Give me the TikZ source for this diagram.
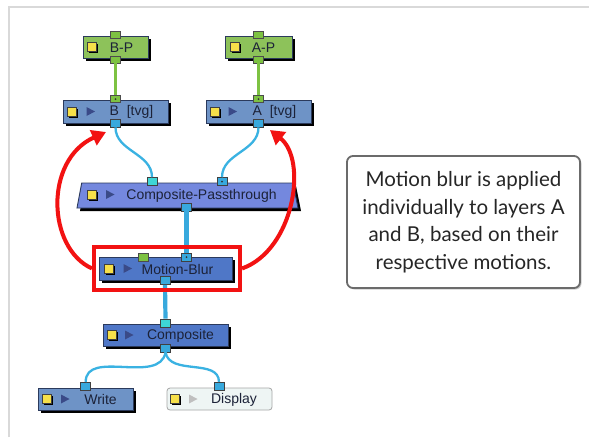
\documentclass[tikz,border=0pt]{standalone}
\usepackage{fontspec}
\setmainfont{Liberation Sans}
\newfontfamily\notefont{Lato}
\usetikzlibrary{shapes.geometric,shadows,arrows.meta}
\definecolor{gfill}{HTML}{8DC25A}
\definecolor{gport}{HTML}{7DC242}
\definecolor{bfill}{HTML}{6E93C6}
\definecolor{cpfill}{HTML}{7488DE}
\definecolor{mbfill}{HTML}{4F77C7}
\definecolor{bport}{HTML}{38A9DD}
\definecolor{cport}{HTML}{3ED6D6}
\definecolor{wire}{HTML}{3AB2E2}
\definecolor{nodeline}{HTML}{2B3A5C}
\definecolor{ysqc}{HTML}{F6E04A}
\definecolor{playc}{HTML}{3A4A88}
\definecolor{dispfill}{HTML}{EEF5F4}
\definecolor{redc}{HTML}{F21212}
\definecolor{framec}{HTML}{D9D9D9}
\definecolor{txtc}{HTML}{1C2238}
\newcommand\playic[3]{\fill[#3] (#1-4,#2-4.5) -- (#1+4.5,#2) -- (#1-4,#2+4.5) -- cycle;}
\tikzset{
  box/.style={draw=nodeline, line width=0.9pt, inner sep=0pt,
    drop shadow={shadow xshift=3pt, shadow yshift=-3pt, fill=black, opacity=1}},
  ysq/.style={draw=black!75, fill=ysqc, minimum size=9pt, inner sep=0pt, line width=0.6pt,
    drop shadow={shadow xshift=1.6pt, shadow yshift=-1.6pt, fill=black, opacity=1}},
  lbl/.style={inner sep=0pt, text=txtc, font=\fontsize{14}{16}\selectfont},
  gp/.style={draw=black!70, fill=gport, line width=0.6pt, minimum width=10pt, minimum height=7pt, inner sep=0pt},
  bp/.style={draw=black!75, fill=bport, line width=0.6pt, minimum width=10pt, minimum height=8pt, inner sep=0pt},
  cp/.style={bp, fill=cport},
  dotted port/.style={path picture={\fill[black!80] (path picture bounding box.center) circle (1pt);}},
  gwire/.style={draw=gport, line width=2.4pt},
  bwire/.style={draw=wire, line width=2.3pt},
  thickwire/.style={draw=bport, line width=4.2pt},
  redarrow/.style={draw=redc, line width=4pt, -{Triangle[length=14pt,width=16pt]}},
}
\begin{document}
\begin{tikzpicture}[x=1pt,y=-1pt]
\useasboundingbox (0,0) rectangle (589,437);
\fill[white] (0,0) rectangle (589,437);
\draw[framec, line width=2pt] (8.5,437) -- (8.5,6.5) -- (589,6.5);

% B-P and A-P
\node[box, fill=gfill, minimum width=65pt, minimum height=22pt] (BP) at (115.5,47) {};
\node[ysq] (BPy) at (92,46.7) {};
\node[lbl] (BPt) at (121.5,47.5) {B-P};
\node[box, fill=gfill, minimum width=67pt, minimum height=22pt] (AP) at (258.5,47) {};
\node[ysq] (APy) at (235,46.7) {};
\node[lbl] (APt) at (263.5,47.5) {A-P};

% B [tvg], A [tvg]
\node[box, fill=bfill, minimum width=105pt, minimum height=23pt] (B) at (115.5,111.5) {};
\node[ysq] (By) at (72,111.5) {};
\playic{90.5}{111.5}{playc}
\node[lbl] (Bt) at (131.5,112) {B\ \ [tvg]};
\node[box, fill=bfill, minimum width=105pt, minimum height=23pt] (A) at (258.5,111.5) {};
\node[ysq] (Ay) at (214.7,111.5) {};
\playic{232.5}{111.5}{playc}
\node[lbl] (At) at (274.5,112) {A\ \ [tvg]};

% Composite-Passthrough
\path[box, fill=cpfill] (81.7,183) -- (293,183) -- (298,208) -- (77,208) -- cycle;
\node[ysq] (CPy) at (92,194.5) {};
\playic{110}{194.5}{playc}
\node[lbl] (CPt) at (201.5,195.5) {Composite-Passthrough};

% Motion-Blur
\node[box, fill=mbfill, minimum width=133pt, minimum height=23pt] (MB) at (165.5,268.5) {};
\node[ysq] (MBy) at (109,268.5) {};
\playic{127.5}{268.5}{playc}
\node[lbl] (MBt) at (177.5,269) {Motion-Blur};

% Composite
\node[box, fill=mbfill, minimum width=125pt, minimum height=22pt] (C) at (165.5,335) {};
\node[ysq] (Cy) at (111.5,335) {};
\playic{129}{335}{playc}
\node[lbl] (Ct) at (180.5,335.5) {Composite};

% Write, Display
\node[box, fill=bfill, minimum width=95pt, minimum height=22pt] (W) at (85.5,399) {};
\node[ysq] (Wy) at (46.7,399) {};
\playic{65}{399}{playc}
\node[lbl] (Wt) at (100.5,399.5) {Write};
\node[draw=black!35, fill=dispfill, line width=0.8pt, rounded corners=3pt, inner sep=0pt,
  minimum width=105pt, minimum height=22pt] (D) at (219.5,399) {};
\node[ysq] (Dy) at (175,399) {};
\playic{193}{399}{black!25}
\node[lbl] (Dt) at (234,399.5) {Display};

% ports
\node[gp] (BPi) at (115.5,35) {};
\node[gp] (BPo) at (115.5,59.5) {};
\node[gp] (APi) at (258.5,35) {};
\node[gp] (APo) at (258.5,59.5) {};
\node[gp, dotted port] (Bi) at (115.5,99) {};
\node[bp] (Bo) at (115.5,123) {};
\node[gp, dotted port] (Ai) at (258.5,99) {};
\node[bp] (Ao) at (258.5,123) {};
\node[cp] (CPi1) at (152,181.5) {};
\node[bp, dotted port] (CPi2) at (222,181.5) {};
\node[bp] (CPo) at (186.5,207) {};
\node[gp, minimum height=8pt] (MBg) at (143.5,257) {};
\node[bp, dotted port] (MBi) at (186.5,257) {};
\node[bp] (MBo) at (165,280.5) {};
\node[cp] (Ci) at (165.5,323) {};
\node[bp] (Co) at (165.5,348) {};
\node[bp] (Wi) at (85.7,386.3) {};
\node[bp] (Di) at (219,386.3) {};

% wires
\draw[gwire] (BPo.south) -- (Bi.north);
\draw[gwire] (APo.south) -- (Ai.north);
\draw[bwire] (Bo.south) to[out=-90,in=90] (CPi1.north);
\draw[bwire] (Ao.south) to[out=-90,in=90] (CPi2.north);
\draw[thickwire] (CPo.south) -- (MBi.north);
\draw[thickwire] (MBo.south) -- (Ci.north);
\draw[bwire] (Co.south) to[out=-100,in=90] (Wi.north);
\draw[bwire] (Co.south) to[out=-80,in=90] (Di.north);

% red highlight and arrows
\node[draw=redc, line width=4pt, minimum width=146pt, minimum height=43pt, inner sep=0pt] (RB) at (167,268.5) {};
\coordinate (Ltip) at (106,132);
\coordinate (Rtip) at (270,130);
\draw[redarrow] (RB.west) .. controls (47,248) and (44,160) .. (Ltip);
\draw[redarrow] (RB.east) .. controls (294,250) and (308,160) .. (Rtip);

% note
\node[draw=black!58, line width=1.8pt, rounded corners=6pt, fill=white,
  minimum width=233pt, minimum height=132pt, align=center, text=black!85,
  font=\notefont\fontsize{20.5}{27.5}\selectfont,
  drop shadow={shadow xshift=1.5pt, shadow yshift=-1.5pt, fill=black, opacity=0.2}] (Note) at (463.5,222)
  {Motion blur is applied\\individually to layers A\\and B, based on their\\respective motions.};
\end{tikzpicture}
\end{document}
